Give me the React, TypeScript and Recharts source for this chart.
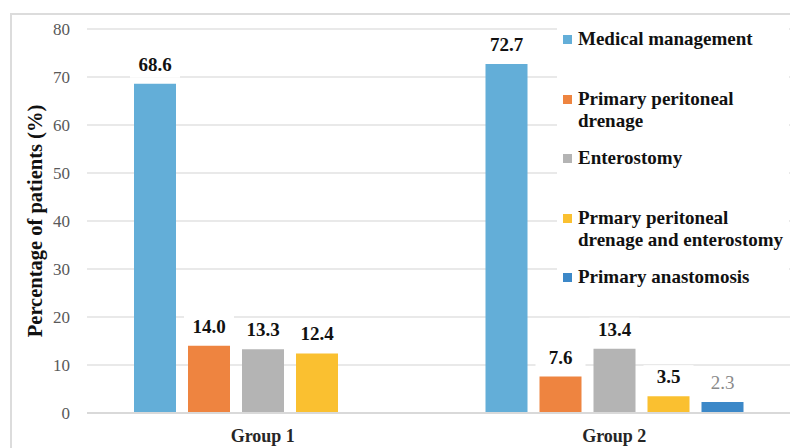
import React from 'react';
import { BarChart, Bar, XAxis, YAxis, CartesianGrid, LabelList } from 'recharts';

const categories = ['Group 1', 'Group 2'];
const medical = [68.6, 72.7];
const peritoneal = [14.0, 7.6];
const enterostomy = [13.3, 13.4];
const peritonealEnterostomy = [12.4, 3.5];
const anastomosis = [null, 2.3];
const yTicks = [0, 10, 20, 30, 40, 50, 60, 70, 80];

const seriesNames = [
  'Medical management',
  'Primary peritoneal drenage',
  'Enterostomy',
  'Prmary peritoneal drenage and enterostomy',
  'Primary anastomosis',
];

const data = categories.map((c, i) => ({
  name: c,
  s0: medical[i],
  s1: peritoneal[i],
  s2: enterostomy[i],
  s3: peritonealEnterostomy[i],
  s4: anastomosis[i],
}));

const colors = ['#63aed8', '#ee8440', '#b4b4b4', '#fac030', '#3c88c8'];
const SERIF = 'Liberation Serif, Times New Roman, Times, DejaVu Serif, serif';

const makeLabel = (fill: string, weight: string | number) => (props: any) => {
  const { x, y, width, value } = props;
  if (value === null || value === undefined) return null;
  const cx = x + width / 2;
  const by = y - 13;
  const txt = Number(value).toFixed(1);
  return (
    <g>
      <rect x={cx - 25} y={by - 18} width={50} height={25} fill="#ffffff" />
      <text x={cx} y={by} textAnchor="middle" style={{ fontFamily: SERIF }} fontSize={19} fontWeight={weight} fill={fill}>
        {txt}
      </text>
    </g>
  );
};

const LegendBox = () => (
  <div style={{ position: 'absolute', left: 557, top: 22, background: '#ffffff', width: 232, paddingTop: 6, fontFamily: SERIF }}>
    {seriesNames.map((n, i) => (
      <div key={n} style={{ height: i === seriesNames.length - 1 ? 30 : 59.5, display: 'flex', alignItems: 'flex-start' }}>
        <div style={{ width: 9, height: 9, background: colors[i], marginTop: 7, marginRight: 6, marginLeft: 6, flexShrink: 0 }} />
        <div style={{ fontSize: 19, fontWeight: 'bold', lineHeight: '22px', color: '#111', width: 212 }}>{n}</div>
      </div>
    ))}
  </div>
);

export default function App() {
  return (
    <div style={{ position: 'absolute', left: 0, top: 0, width: 790, height: 448, overflow: 'hidden', background: '#fff', fontFamily: SERIF }}>
      <div style={{ position: 'absolute', left: 10, top: 13, width: 800, height: 460, border: '2px solid #dcdcdc', boxSizing: 'border-box' }} />
      <div style={{ position: 'absolute', left: 0, top: 0 }}>
        <BarChart
          width={790}
          height={448}
          data={data}
          margin={{ top: 29, right: 0, bottom: 5, left: 0 }}
          barSize={42}
          barGap={12}
          style={{ fontFamily: SERIF }}
        >
          <CartesianGrid horizontal vertical={false} stroke="#e2e2e2" strokeWidth={1.5} />
          <XAxis
            dataKey="name"
            height={30}
            axisLine={{ stroke: '#d9d9d9', strokeWidth: 2 }}
            tickLine={false}
            tickSize={0}
            tickMargin={16}
            tick={{ fontSize: 18, fontWeight: 'bold', fill: '#262626', style: { fontFamily: SERIF } }}
          />
          <YAxis
            width={87}
            domain={[0, 80]}
            ticks={yTicks}
            axisLine={false}
            tickLine={false}
            tickSize={0}
            tickMargin={17}
            tick={{ fontSize: 17, fill: '#595959', style: { fontFamily: SERIF } }}
            label={{
              value: 'Percentage of patients (%)',
              angle: -90,
              position: 'insideLeft',
              offset: 35,
              style: { textAnchor: 'middle', fontFamily: SERIF, fontSize: 20.5, fontWeight: 'bold', fill: '#111' },
            }}
          />
          {['s0', 's1', 's2', 's3', 's4'].map((k, i) => (
            <Bar key={k} dataKey={k} name={seriesNames[i]} fill={colors[i]} isAnimationActive={false}>
              <LabelList
                dataKey={k}
                content={i === 4 ? makeLabel('#8a8a8a', 'normal') : makeLabel('#111111', 'bold')}
              />
            </Bar>
          ))}
        </BarChart>
      </div>
      <LegendBox />
    </div>
  );
}
